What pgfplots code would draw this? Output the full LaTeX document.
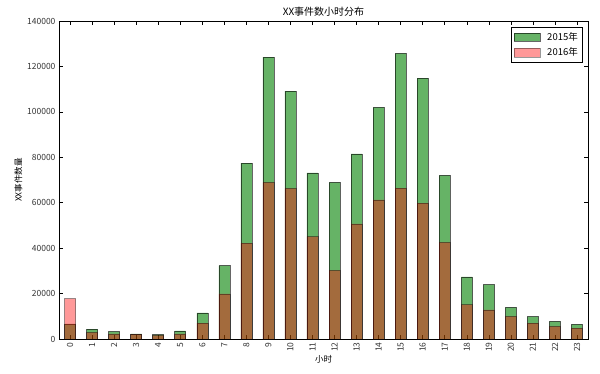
\documentclass[border=0pt]{standalone}
\usepackage{fontspec}
\setmainfont{Noto Sans CJK SC}
\usepackage{pgfplots}
\pgfplotsset{compat=1.18}
\definecolor{mplgreen}{RGB}{0,128,0}
\definecolor{mplred}{RGB}{255,0,0}
\begin{document}
\begin{tikzpicture}
\begin{axis}[
  scale only axis,
  width=529pt, height=318pt,
  xmin=-0.5, xmax=23.5,
  ymin=0, ymax=140000,
  ybar, bar width=0.5, bar shift=0pt,
  xtick={0,1,...,23},
  xticklabels={0,1,2,3,4,5,6,7,8,9,10,11,12,13,14,15,16,17,18,19,20,21,22,23},
  ytick={0,20000,40000,60000,80000,100000,120000,140000},
  yticklabels={0,20000,40000,60000,80000,100000,120000,140000},
  scaled y ticks=false,
  tick align=inside,
  major tick length=4pt,
  tick style={black, line width=0.5pt},
  axis line style={line width=0.8pt},
  ticklabel style={font=\fontsize{8.5}{9}\selectfont, text=black!80},
  xticklabel style={rotate=90, anchor=east},
  title={XX事件数小时分布},
  title style={font=\fontsize{10}{11}\selectfont, yshift=-5pt},
  xlabel={小时},
  ylabel={XX事件数量},
  label style={font=\fontsize{8.5}{9}\selectfont},
  xlabel style={yshift=3pt},
  ylabel style={yshift=-2pt},
  legend style={at={(0.991,0.981)}, anchor=north east, font=\fontsize{9.5}{10}\selectfont,
    draw=black, line width=0.8pt, inner sep=3pt, row sep=2pt, column sep=5pt, cells={anchor=west}},
  legend image code/.code={\draw[#1, line width=0.4pt] (0cm,-0.15cm) rectangle (0.9cm,0.15cm);},
]
\addplot[fill=mplgreen, draw=black, line width=0.5pt, fill opacity=0.6, draw opacity=0.6] coordinates {
(0,6670) (1,4350) (2,3200) (3,2300) (4,1900) (5,3600) (6,11450) (7,32300)
(8,77400) (9,124100) (10,109100) (11,73100) (12,69000) (13,81500) (14,102000)
(15,125800) (16,114800) (17,72000) (18,27300) (19,23900) (20,13900) (21,9800)
(22,7750) (23,6400)};
\addlegendentry{2015年}
\addplot[fill=mplred, draw=black, line width=0.5pt, fill opacity=0.4, draw opacity=0.4] coordinates {
(0,17800) (1,2900) (2,2300) (3,2000) (4,1600) (5,2300) (6,6960) (7,19850)
(8,42200) (9,68900) (10,66300) (11,45100) (12,30200) (13,50700) (14,61300)
(15,66400) (16,59800) (17,42500) (18,15100) (19,12800) (20,9950) (21,7040)
(22,5540) (23,4840)};
\addlegendentry{2016年}
\end{axis}
\path ([xshift=-59pt,yshift=-34pt]current axis.south west) rectangle ([xshift=12pt,yshift=21pt]current axis.north east);
\end{tikzpicture}
\end{document}
